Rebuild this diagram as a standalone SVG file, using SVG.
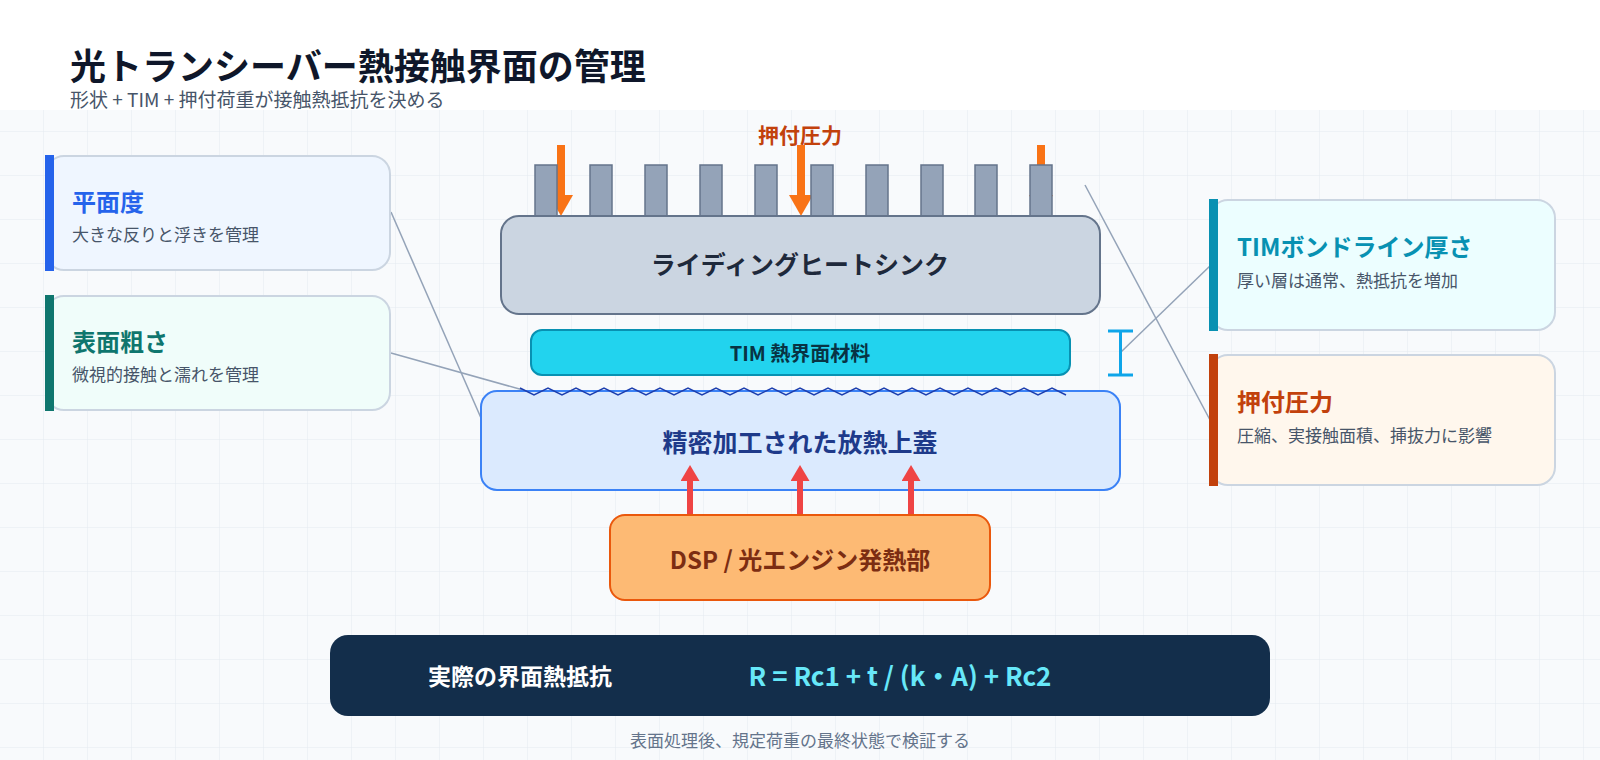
<svg xmlns="http://www.w3.org/2000/svg" width="1600" height="760" viewBox="0 0 1600 760">
<defs>
<style>
text{font-family:"Noto Sans CJK JP","Noto Sans",sans-serif}
.card{stroke:#cbd5e1;stroke-width:2}
.ct{font-size:24px;font-weight:700}
.cs{font-size:17px;fill:#475569}
.conn{stroke:#94a3b8;stroke-width:1.5;fill:none}
.fin{fill:#94a3b8;stroke:#64748b;stroke-width:1.5}
.press{stroke:#f97316;stroke-width:8}
.heat{stroke:#ef4444;stroke-width:6}
.lbl{font-weight:700;text-anchor:middle}
</style>
<pattern id="grid" width="44" height="44" patternUnits="userSpaceOnUse">
<path d="M44 0V44M0 44H44" fill="none" stroke="#e5eaf0" stroke-width="1"/>
</pattern>
<marker id="ah-or" markerUnits="userSpaceOnUse" markerWidth="21" markerHeight="24" viewBox="0 0 21 24" refX="0" refY="12" orient="auto">
<path d="M0,0 L21,12 L0,24 z" fill="#f97316"/>
</marker>
<marker id="ah-red" markerUnits="userSpaceOnUse" markerWidth="16" markerHeight="19" viewBox="0 0 16 19" refX="0" refY="9.5" orient="auto">
<path d="M0,0 L16,9.5 L0,19 z" fill="#ef4444"/>
</marker>
</defs>
<rect width="1600" height="760" fill="#ffffff"/>
<rect x="0" y="110" width="1600" height="650" fill="#f8fafc"/>
<rect x="0" y="110" width="1600" height="650" fill="url(#grid)"/>

<g id="title">
<text x="70" y="80" font-size="36" font-weight="700" fill="#0f172a">光トランシーバー熱接触界面の管理</text>
<text x="70" y="107" font-size="19" fill="#475569">形状 + TIM + 押付荷重が接触熱抵抗を決める</text>
</g>

<g id="connectors">
<line class="conn" x1="391" y1="212" x2="481" y2="418"/>
<line class="conn" x1="391" y1="353" x2="523" y2="390"/>
<line class="conn" x1="1121" y1="352" x2="1211" y2="265"/>
<line class="conn" x1="1085" y1="185" x2="1210" y2="420"/>
</g>

<g id="card-flatness">
<rect class="card" x="46" y="156" width="344" height="114" rx="18" fill="#eff6ff"/>
<rect x="45" y="155" width="9" height="116" fill="#2563eb"/>
<text class="ct" x="72" y="211" fill="#2563eb">平面度</text>
<text class="cs" x="72" y="241">大きな反りと浮きを管理</text>
</g>
<g id="card-roughness">
<rect class="card" x="46" y="296" width="344" height="114" rx="18" fill="#f0fdfa"/>
<rect x="45" y="295" width="9" height="116" fill="#0f766e"/>
<text class="ct" x="72" y="351" fill="#0f766e">表面粗さ</text>
<text class="cs" x="72" y="381">微視的接触と濡れを管理</text>
</g>
<g id="card-bondline">
<rect class="card" x="1210" y="200" width="345" height="130" rx="18" fill="#ecfeff"/>
<rect x="1209" y="199" width="9" height="132" fill="#0891b2"/>
<text class="ct" x="1237" y="256" fill="#0891b2">TIMボンドライン厚さ</text>
<text class="cs" x="1237" y="287">厚い層は通常、熱抵抗を増加</text>
</g>
<g id="card-pressure">
<rect class="card" x="1210" y="355" width="345" height="130" rx="18" fill="#fff7ed"/>
<rect x="1209" y="354" width="9" height="132" fill="#c2410c"/>
<text class="ct" x="1237" y="411" fill="#c2410c">押付圧力</text>
<text class="cs" x="1237" y="442">圧縮、実接触面積、挿抜力に影響</text>
</g>

<g id="pressure-arrows">
<text class="lbl" x="800" y="143" font-size="21" fill="#c2410c">押付圧力</text>
<line class="press" x1="561" y1="145" x2="561" y2="195" marker-end="url(#ah-or)"/>
<line class="press" x1="801" y1="145" x2="801" y2="195" marker-end="url(#ah-or)"/>
<line class="press" x1="1041" y1="145" x2="1041" y2="195" marker-end="url(#ah-or)"/>
</g>

<g id="heatsink">
<rect class="fin" x="535" y="165" width="22" height="51"/>
<rect class="fin" x="590" y="165" width="22" height="51"/>
<rect class="fin" x="645" y="165" width="22" height="51"/>
<rect class="fin" x="700" y="165" width="22" height="51"/>
<rect class="fin" x="755" y="165" width="22" height="51"/>
<rect class="fin" x="811" y="165" width="22" height="51"/>
<rect class="fin" x="866" y="165" width="22" height="51"/>
<rect class="fin" x="921" y="165" width="22" height="51"/>
<rect class="fin" x="975" y="165" width="22" height="51"/>
<rect class="fin" x="1030" y="165" width="22" height="51"/>
<rect x="501" y="216" width="599" height="98" rx="18" fill="#cbd5e1" stroke="#64748b" stroke-width="2"/>
<text class="lbl" x="800" y="274" font-size="25" fill="#1e293b">ライディングヒートシンク</text>
</g>

<g id="tim">
<rect x="531" y="330" width="539" height="45" rx="11" fill="#22d3ee" stroke="#0891b2" stroke-width="2"/>
<text class="lbl" x="800" y="361" font-size="20" fill="#083344">TIM 熱界面材料</text>
</g>

<g id="bondline-marker" stroke="#0ea5e9" stroke-width="3" fill="none">
<line x1="1120.5" y1="331" x2="1120.5" y2="375"/>
<line x1="1108" y1="331" x2="1133" y2="331"/>
<line x1="1108" y1="375" x2="1133" y2="375"/>
</g>

<g id="lid">
<rect x="481" y="391" width="639" height="99" rx="16" fill="#dbeafe" stroke="#3b82f6" stroke-width="2"/>
<path d="M520,388 L534,395 L548,388 L562,395 L576,388 L590,395 L604,388 L618,395 L632,388 L646,395 L660,388 L674,395 L688,388 L702,395 L716,388 L730,395 L744,388 L758,395 L772,388 L786,395 L800,388 L814,395 L828,388 L842,395 L856,388 L870,395 L884,388 L898,395 L912,388 L926,395 L940,388 L954,395 L968,388 L982,395 L996,388 L1010,395 L1024,388 L1038,395 L1052,388 L1066,395" fill="none" stroke="#1e40af" stroke-width="1.5"/>
<text class="lbl" x="800" y="452" font-size="25" fill="#1e3a8a">精密加工された放熱上蓋</text>
</g>

<g id="heat-arrows">
<line class="heat" x1="690" y1="516" x2="690" y2="481" marker-end="url(#ah-red)"/>
<line class="heat" x1="800" y1="516" x2="800" y2="481" marker-end="url(#ah-red)"/>
<line class="heat" x1="911" y1="516" x2="911" y2="481" marker-end="url(#ah-red)"/>
</g>

<g id="dsp">
<rect x="610" y="515" width="380" height="85" rx="15" fill="#fdba74" stroke="#ea580c" stroke-width="2"/>
<text class="lbl" x="800" y="569" font-size="24" fill="#7c2d12">DSP / 光エンジン発熱部</text>
</g>

<g id="formula">
<rect x="330" y="635" width="940" height="81" rx="18" fill="#132e4b"/>
<text x="428" y="685" font-size="23" font-weight="700" fill="#ffffff">実際の界面熱抵抗</text>
<text class="lbl" x="900" y="686" font-size="26" fill="#67e8f9">R = Rc1 + t / (k・A) + Rc2</text>
</g>

<g id="footer">
<text x="800" y="747" font-size="17" fill="#64748b" text-anchor="middle">表面処理後、規定荷重の最終状態で検証する</text>
</g>
</svg>
